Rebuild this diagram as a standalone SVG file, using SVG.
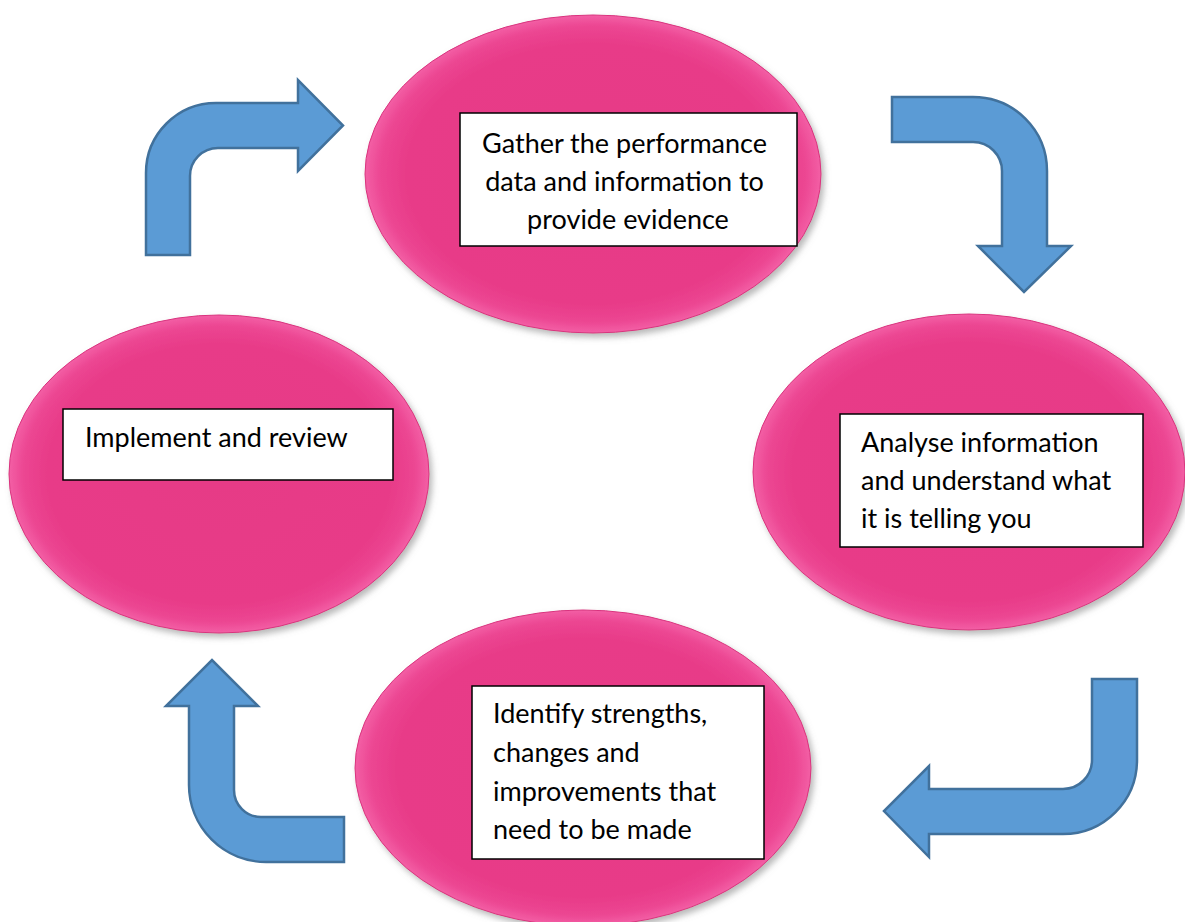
<svg xmlns="http://www.w3.org/2000/svg" width="1185" height="922" viewBox="0 0 1185 922">
  <defs>
    <radialGradient id="pinkFill" cx="50%" cy="50%" r="50%">
      <stop offset="0" stop-color="#E63A86"/>
      <stop offset="0.82" stop-color="#E83B88"/>
      <stop offset="0.93" stop-color="#EC4692"/>
      <stop offset="1" stop-color="#F35FA5"/>
    </radialGradient>
    <filter id="shadow" x="-10%" y="-10%" width="125%" height="125%">
      <feDropShadow dx="3" dy="4" stdDeviation="3" flood-color="#808080" flood-opacity="0.55"/>
    </filter>
  </defs>
  <style>
    .blob { fill: url(#pinkFill); stroke: #D9337E; stroke-width: 1; filter: url(#shadow); }
    .box { fill: #FFFFFF; stroke: #000000; stroke-width: 1.5; }
    .label { font-family: Lato, "Open Sans", sans-serif; font-size: 27px; fill: #000000; }
    .arrow { fill: #5B9BD5; stroke: #41719C; stroke-width: 2.5; stroke-linejoin: miter; }
  </style>
  <rect width="1185" height="922" fill="#FFFFFF"/>

  <!-- connectors: bent block arrows -->
  <g id="connectors">
    <path class="arrow" d="M146,255 L146,173 A70,70 0 0 1 216,103 L298,103 L298,80 L343,125.5 L298,171 L298,148 L218,148 A28,28 0 0 0 190,176 L190,255 Z"/>
    <path class="arrow" d="M892,97 L973,97 A74,74 0 0 1 1047,171 L1047,246 L1071,246 L1024,292 L978,246 L1002,246 L1002,171 A29,29 0 0 0 973,142 L892,142 Z"/>
    <path class="arrow" d="M1092,679 L1137,679 L1137,760 A74,74 0 0 1 1063,834 L929,834 L929,857 L884,811 L929,766 L929,789 L1063,789 A29,29 0 0 0 1092,760 Z"/>
    <path class="arrow" d="M344,817 L344,862 L266,862 A77,77 0 0 1 189,785 L189,706 L166,706 L212,660 L258,706 L234,706 L234,790 A27,27 0 0 0 261,817 Z"/>
  </g>

  <g id="gather">
    <ellipse class="blob" cx="593" cy="174" rx="228" ry="159"/>
    <rect class="box" x="460" y="113" width="337" height="133"/>
    <text class="label" text-anchor="middle">
      <tspan x="628" y="153">Gather the performance</tspan>
      <tspan x="628" y="191">data and information to</tspan>
      <tspan x="628" y="229">provide evidence</tspan>
    </text>
  </g>

  <g id="analyse">
    <ellipse class="blob" cx="969" cy="472" rx="216" ry="158"/>
    <rect class="box" x="840" y="414" width="303" height="133"/>
    <text class="label">
      <tspan x="861" y="452">Analyse information</tspan>
      <tspan x="861" y="490">and understand what</tspan>
      <tspan x="861" y="528">it is telling you</tspan>
    </text>
  </g>

  <g id="identify">
    <ellipse class="blob" cx="583" cy="768" rx="228" ry="158"/>
    <rect class="box" x="472" y="686" width="292" height="173"/>
    <text class="label">
      <tspan x="493" y="723">Identify strengths,</tspan>
      <tspan x="493" y="762">changes and</tspan>
      <tspan x="493" y="801">improvements that</tspan>
      <tspan x="493" y="839">need to be made</tspan>
    </text>
  </g>

  <g id="implement">
    <ellipse class="blob" cx="219" cy="474" rx="210" ry="159"/>
    <rect class="box" x="63" y="409" width="330" height="71"/>
    <text class="label">
      <tspan x="85" y="447">Implement and review</tspan>
    </text>
  </g>
</svg>
